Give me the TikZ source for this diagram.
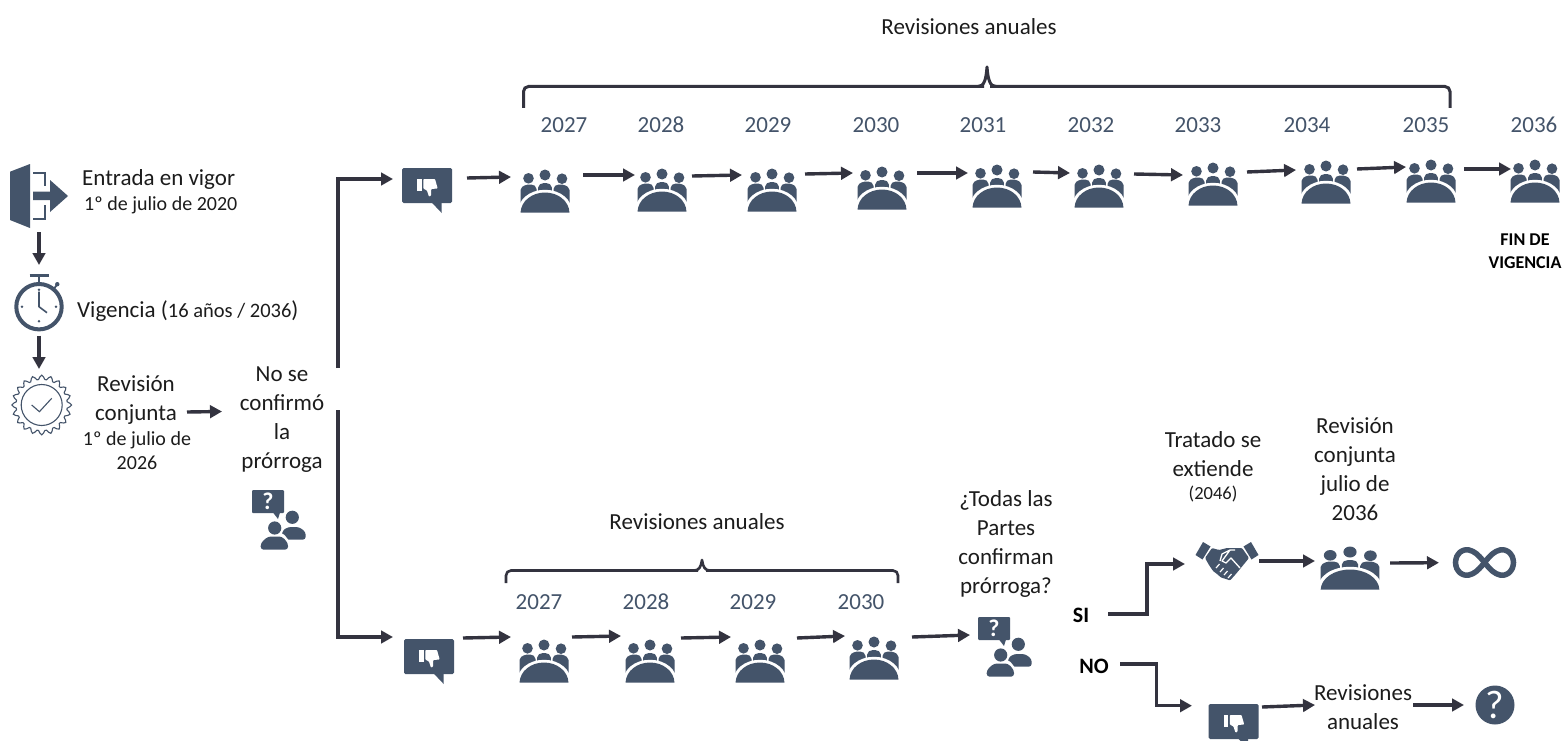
\documentclass[tikz,border=0pt]{standalone}
\usepackage{fontspec}
\setmainfont{Carlito}
\usetikzlibrary{arrows.meta}
\definecolor{iconblue}{HTML}{44546A}
\definecolor{arrowc}{HTML}{33333F}
\definecolor{textc}{HTML}{1C1C1C}
\tikzset{
  arr/.style={draw=arrowc,line width=3.4pt,-{Triangle[length=12pt,width=12.5pt]}},
  elbow/.style={arr,line join=miter},
  bracec/.style={draw=arrowc,line width=3pt,rounded corners=5pt},
  lab/.style={inner sep=0pt,align=center,text=textc,font=\fontsize{23}{29}\selectfont},
  sm/.style={inner sep=0pt,align=center,text=textc,font=\fontsize{20}{24}\selectfont},
  yr/.style={inner sep=0pt,text=iconblue,font=\fontsize{23}{26}\selectfont},
  boldl/.style={inner sep=0pt,align=center,text=black,font=\bfseries\fontsize{22}{26}\selectfont},
  anchorpt/.style={inner sep=0pt,minimum size=1pt},
  meet/.pic={
    \fill[iconblue] (-16.5,-12.7) circle[radius=5.3pt] (0,-16) circle[radius=5.5pt] (17,-12.3) circle[radius=5.3pt];
    \fill[iconblue,rounded corners=2pt] (-24.5,14) -- (-24.5,-3) -- (-19,-6.5) -- (-12,-6.5) -- (-8.5,-4) -- (-8.5,8) -- cycle;
    \fill[iconblue,rounded corners=2pt] (24.5,14) -- (24.5,-3) -- (19,-6.5) -- (12,-6.5) -- (8.5,-4) -- (8.5,8) -- cycle;
    \fill[iconblue,rounded corners=2pt] (-6.8,6) -- (-6.8,-5.5) -- (-3,-8) -- (3,-8) -- (6.8,-5.5) -- (6.8,6) -- cycle;
    \fill[white] (-27.5,23) .. controls (-27.5,8) and (-15,-1.2) .. (0,-1.2) .. controls (15,-1.2) and (27.5,8) .. (27.5,23) -- cycle;
    \fill[iconblue] (-24.5,21.7) .. controls (-24,10) and (-13,1.5) .. (0,1.5) .. controls (13,1.5) and (24,10) .. (24.5,21.7) -- cycle;
  },
  thumb/.pic={
    \fill[iconblue,rounded corners=1.5pt] (-25,-17.5) rectangle (25,17.5);
    \fill[iconblue] (4.7,17) -- (14.7,27.5) -- (14.7,17) -- cycle;
    \fill[white] (-9.7,-6.5) rectangle (-5.3,5.2);
    \fill[white,rounded corners=0.8pt] (-3.7,-6.5) -- (8,-6.5) -- (10.7,3) -- (4.2,3.5) -- (4.2,10) -- (2,11.2) -- (0,5) -- (-3.7,3) -- cycle;
  },
  askers/.pic={
    \fill[iconblue,rounded corners=1pt] (-27,-30) rectangle (5,-7);
    \fill[iconblue] (-6,-7.5) -- (-1,-1) -- (1,-7.5) -- cycle;
    \fill[iconblue] (13.3,-2.7) circle[radius=6.6pt];
    \fill[iconblue,rounded corners=3pt] (3,19.7) -- (3,11) -- (9,7) -- (20,7) -- (26.7,12) -- (26.7,19.7) -- cycle;
    \fill[white] (-4.3,8) circle[radius=8.6pt];
    \fill[white,rounded corners=3pt] (-20.5,31) -- (-20.5,22) -- (-12,13) -- (4,13) -- (11,22) -- (11,31) -- cycle;
    \fill[iconblue] (-4.3,8) circle[radius=6.6pt];
    \fill[iconblue,rounded corners=3pt] (-18.3,29.7) -- (-18.3,23) -- (-11,16.5) -- (3,16.5) -- (9,23) -- (9,29.7) -- cycle;
  },
  shake/.pic={
    \fill[iconblue] (-31.5,-6) -- (-24,-19) -- (-16.5,-14.5) -- (-24.5,-1.5) -- cycle;
    \fill[iconblue] (31.5,-6) -- (24,-19) -- (16.5,-14.5) -- (24.5,-1.5) -- cycle;
    \fill[iconblue,rounded corners=1pt] (-22,-3) -- (-15,-13) -- (-8,-11) -- (0,-13) -- (8,-13) -- (15,-13) -- (22,-3) -- (13,8) -- (8,14) -- (3,19.5) -- (-1,18) -- (-6,16.5) -- (-10,13) -- (-14,10) -- (-18,4) -- cycle;
    \draw[white,line width=1.3pt,line join=round] (-7,0) -- (-5,-7) -- (3,-11) -- (8,-11) (3,-11) -- (-5,0) -- (-1,2) -- (4,-3) -- (13,7);
    \draw[white,line width=1.2pt] (-11,7) -- (-7.5,3) (-7,11) -- (-3.5,7) (-3,14) -- (0.5,10) (1,17) -- (4.5,13);
  },
  doorp/.pic={
    \fill[iconblue] (10,171.7) -- (30,164) -- (30,228) -- (10,220) -- cycle;
    \draw[iconblue,line width=2.8pt] (33,173) -- (45,173) -- (45,186);
    \draw[iconblue,line width=2.8pt] (45,205) -- (45,219) -- (33,219);
    \fill[iconblue] (33,191.5) -- (50,191.5) -- (50,180) -- (68,196) -- (50,212) -- (50,200) -- (33,200) -- cycle;
  },
  clockp/.pic={
    \draw[iconblue,line width=4pt] (0,0) circle[radius=22.7pt];
    \draw[iconblue,line width=3pt] (-9.5,-31.5) -- (9.5,-31.5);
    \draw[iconblue,line width=2.5pt] (0,-31) -- (0,-24);
    \draw[iconblue,line width=1.8pt] (15,-18) -- (18,-22);
    \fill[iconblue] (18.3,-22.5) circle[radius=2.2pt];
    \draw[iconblue,line width=1.6pt,line join=round] (0,-15) -- (0,0) -- (8,6);
    \fill[iconblue] (0,-17) circle[radius=1.3pt] (0,14.5) circle[radius=1.3pt] (-17,0) circle[radius=1.3pt] (17,0) circle[radius=1.3pt];
  },
  sealp/.pic={
    \draw[iconblue,line width=1.1pt] plot[smooth cycle,domain=0:356.4,samples=100] ({(27.5+2.3*cos(20*\x))*cos(\x)},{(27.5+2.3*cos(20*\x))*sin(\x)});
    \draw[iconblue,line width=1.1pt] (0,0) circle[radius=20.5pt];
    \draw[iconblue,line width=1.1pt] (-10,0) -- (-2.3,6.7) -- (10,-6.7);
  },
  infp/.pic={
    \draw[iconblue,line width=5.5pt] plot[smooth cycle,domain=0:350,samples=36] ({29*cos(\x)/(1+sin(\x)*sin(\x))},{36*sin(\x)*cos(\x)/(1+sin(\x)*sin(\x))});
  }
}
\begin{document}
\begin{tikzpicture}[x=1pt,y=-1pt]
\useasboundingbox (0,0) rectangle (1563,741);
\fill[white] (0,0) rectangle (1563,741);

% left column
\node[anchorpt] (door) at (39,196) {};
\pic at (0,0) {doorp};
\node[anchorpt] (clock) at (39,306.7) {};
\pic at (clock.center) {clockp};
\node[anchorpt] (seal) at (41.7,405) {};
\pic at (seal.center) {sealp};
\node[lab,anchor=west] (t1) at (82,179) {Entrada en vigor};
\node[sm,anchor=west] (t2) at (84,205) {1º de julio de 2020};
\node[lab,anchor=west] (t3) at (77,311) {Vigencia ({\fontsize{20.5}{24}\selectfont 16 años / 2036})};
\node[lab] (t4) at (136,400.5) {Revisión\\conjunta};
\node[sm] (t5) at (137,451) {1º de julio de\\2026};
\node[lab] (noconf) at (282,419.5) {No se\\confirmó\\la\\prórroga};
\node[anchorpt] (q1) at (279,520) {};
\pic at (q1.center) {askers};
\node[anchorpt,text=white,font=\bfseries\fontsize{24}{24}\selectfont] (q1m) at (268,501) {?};
\coordinate (splitA) at (338,368);
\coordinate (splitB) at (338,410);

\draw[arr] ([shift={(0,36)}]door.center) -- ([shift={(0,-41.7)}]clock.center);
\draw[arr] ([shift={(0,29)}]clock.center) -- ([shift={(-2.7,-36)}]seal.center);
\draw[arr] ([shift={(51,11.5)}]t4.center) -- ([shift={(-60,-8)}]noconf.center);

% top row
\foreach \n/\x/\y in {m27/545/191,m28/662/190,m29/772/190,m30/882/188,m31/997/186,m32/1099/186,m33/1213/184,m34/1326/182,m35/1431/181,m36/1535/181,b27/544/661,b28/650/661,b29/760/661,b30/874/658}{
  \node[anchorpt] (\n) at (\x,\y) {};
  \pic at (\n.center) {meet};
}
\node[anchorpt] (th1) at (427,185.5) {};
\pic at (th1.center) {thumb};
\node[anchorpt] (th2) at (429,656.5) {};
\pic at (th2.center) {thumb};
\node[anchorpt] (th3) at (1233.5,721.5) {};
\pic at (th3.center) {thumb};

\draw[elbow] (splitA) |- ([shift={(-34,-6.5)}]th1.center);
\draw[elbow] (splitB) |- ([shift={(-36,-19.5)}]th2.center);

\foreach \a/\ax/\ay/\b/\bx/\by in {
 th1/40/-7.5/m27/-34/-14, m27/38/-16/m28/-27/-15, m28/30/-14/m29/-30/-15,
 m29/33/-16/m30/-29/-15, m30/35/-15/m31/-29/-13, m31/36/-14/m32/-29/-13,
 m32/35/-12/m33/-30/-9, m33/34/-12/m34/-30/-12, m34/31/-13/m35/-25/-14,
 m35/33/-12/m36/-24/-12,
 th2/34/-18.5/b27/-33/-24, b27/28/-24/b28/-29/-25, b28/31/-23/b29/-29/-24,
 b29/37/-23/b30/-29/-22}{
  \draw[arr] ([shift={(\ax,\ay)}]\a.center) -- ([shift={(\bx,\by)}]\b.center);
}

% years
\foreach \x/\y/\l in {564/125/2027,661/125/2028,768/125/2029,876/125/2030,983/125/2031,1091/125/2032,1198/125/2033,1307/125/2034,1426/125/2035,1534/125/2036,539/602/2027,646/602/2028,753/602/2029,861/602/2030}{
  \node[yr] (y\l-\x) at (\x,\y) {\l};
}

% braces
\draw[bracec] (523.5,108) -- (523.5,86.5) -- (984,86.5);
\draw[bracec] (1450,108) -- (1450,86.5) -- (990,86.5);
\draw[draw=arrowc,line width=3pt,line join=round] (978,86.5) .. controls (984,86.5) and (986,80) .. (987,67) .. controls (988,80) and (990,86.5) .. (996,86.5);
\draw[bracec,line width=2.6pt] (506,583) -- (506,570.5) -- (698,570.5);
\draw[bracec,line width=2.6pt] (898,583) -- (898,570.5) -- (706,570.5);
\draw[draw=arrowc,line width=2.6pt,line join=round] (694,570.5) .. controls (699,570.5) and (701,567) .. (702,560) .. controls (703,567) and (705,570.5) .. (710,570.5);

\node[lab] (ra1) at (969,27) {Revisiones anuales};
\node[lab] (ra2) at (697,522) {Revisiones anuales};
\node[inner sep=0pt,align=center,text=black,font=\bfseries\fontsize{18}{23}\selectfont] (fin) at (1525,251.5) {FIN DE\\VIGENCIA};

% right part
\node[lab] (todas) at (1006,544) {¿Todas las\\Partes\\confirman\\prórroga?};
\node[anchorpt] (q2) at (1005,647) {};
\pic at (q2.center) {askers};
\node[anchorpt,text=white,font=\bfseries\fontsize{24}{24}\selectfont] (q2m) at (994,628) {?};
\draw[arr] ([shift={(38,-21)}]b30.center) -- ([shift={(-35,-12)}]q2.center);

\node[boldl] (si) at (1081,615) {SI};
\node[boldl] (no) at (1094,666) {NO};
\node[anchorpt] (hs) at (1227,561) {};
\pic at (hs.center) {shake};
\node[lab] (trat) at (1213,454.5) {Tratado se\\extiende};
\node[inner sep=0pt,text=textc,font=\fontsize{18.5}{20}\selectfont] (trat2) at (1213,494) {(2046)};
\node[lab] (revc) at (1355,469) {Revisión\\conjunta\\julio de\\2036};
\node[anchorpt] (m2) at (1350,568) {};
\pic[xscale=1.2] at (m2.center) {meet};
\node[anchorpt] (inf) at (1484.5,562.5) {};
\pic at (inf.center) {infp};
\node[lab] (reva) at (1363,707) {Revisiones\\anuales};
\node[anchorpt] (qc) at (1495,705) {};
\fill[iconblue] (qc.center) circle[radius=19.5pt];
\node[inner sep=0pt,text=white,font=\fontsize{40}{40}\selectfont] (qcm) at (1495,705) {?};

\draw[elbow] ([shift={(27,-1)}]si.center) -| (1147,564) -- ([shift={(-42,3)}]hs.center);
\draw[elbow] ([shift={(26,-2)}]no.center) -| (1156.7,705.7) -- ([shift={(-41.5,-15.8)}]th3.center);
\draw[arr] ([shift={(32,0)}]hs.center) -- ([shift={(-35,-7)}]m2.center);
\draw[arr] ([shift={(40,-5)}]m2.center) -- ([shift={(-45.5,0.2)}]inf.center);
\draw[arr] ([shift={(28.5,-14.5)}]th3.center) -- ([shift={(-48,-2)}]reva.center);
\draw[arr] ([shift={(50,-2)}]reva.center) -- ([shift={(-31,0)}]qc.center);
\end{tikzpicture}
\end{document}
